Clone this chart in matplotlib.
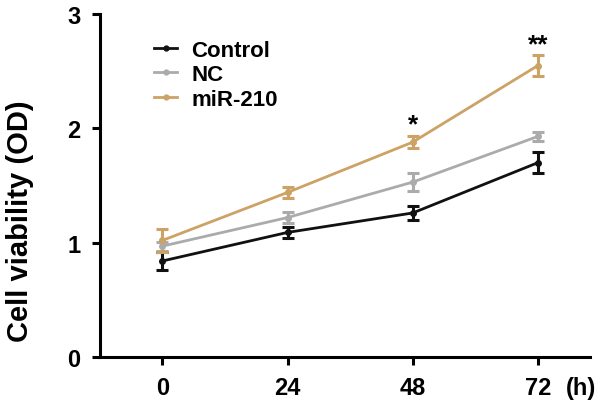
import matplotlib
matplotlib.use("Agg")
import matplotlib.pyplot as plt
from matplotlib.lines import Line2D

plt.rcParams['font.family'] = ['Liberation Sans', 'DejaVu Sans']
plt.rcParams['font.weight'] = 'bold'

hours = [0, 24, 48, 72]
control = [0.84, 1.09, 1.26, 1.70]
control_err = [0.08, 0.05, 0.06, 0.09]
nc = [0.97, 1.22, 1.53, 1.93]
nc_err = [0.04, 0.05, 0.08, 0.04]
mir = [1.02, 1.44, 1.88, 2.55]
mir_err = [0.10, 0.05, 0.05, 0.09]
series_names = ['Control', 'NC', 'miR-210']
star_hours = [48, 72]
star_y = [2.04, 2.74]
star_text = ['*', '**']

colors = ['#111111', '#ABABAB', '#CCA265']

fig = plt.figure(figsize=(6.02, 4.10), dpi=100)
ax = fig.add_axes([0.166, 0.127, 0.814, 0.836])

handles = []
for vals, errs, name, c in zip([control, nc, mir], [control_err, nc_err, mir_err], series_names, colors):
    ax.errorbar(hours, vals, yerr=errs, color=c, lw=2.0, marker='o', ms=4,
                capsize=4, capthick=2.2, elinewidth=2.2)
    handles.append(Line2D([], [], color=c, lw=2.0, marker='o', ms=3.5, label=name))

for h, y, t in zip(star_hours, star_y, star_text):
    ax.text(h, y, t, ha='center', va='center', fontsize=19, fontweight='bold')

ax.set_xlim(-12, 82)
ax.set_ylim(0, 3)
ax.set_xticks(hours)
ax.set_yticks([0, 1, 2, 3])
ax.tick_params(axis='both', width=2.2, length=6, labelsize=17, pad=8)
for lab in ax.get_xticklabels() + ax.get_yticklabels():
    lab.set_fontweight('bold')
for s in ['top', 'right']:
    ax.spines[s].set_visible(False)
for s in ['left', 'bottom']:
    ax.spines[s].set_linewidth(2.2)

ax.set_ylabel('Cell viability (OD)', fontsize=21, fontweight='bold', va='center')
ax.yaxis.set_label_coords(-0.163, 0.40)

ax.annotate('(h)', xy=(80.3, 0), xycoords='data', xytext=(0, -14), textcoords='offset points',
            ha='center', va='top', fontsize=17, fontweight='bold')

leg = ax.legend(handles=handles, loc='upper left', bbox_to_anchor=(0.11, 0.925), frameon=False,
                fontsize=16, handlelength=1.05, handletextpad=0.65, labelspacing=0.15,
                borderaxespad=0, borderpad=0)
for t in leg.get_texts():
    t.set_fontweight('bold')

fig.savefig('out.png', dpi=100)
